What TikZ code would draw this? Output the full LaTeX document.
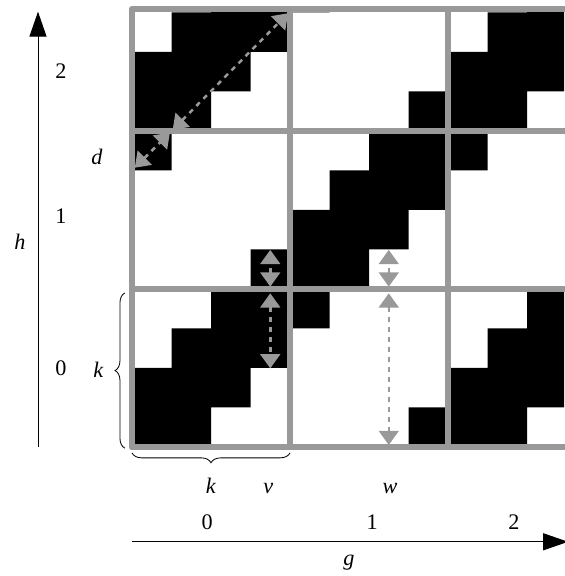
\documentclass[tikz,border=0pt]{standalone}
\usepackage{fontspec}
\setmainfont{Liberation Serif}
\usetikzlibrary{arrows.meta, decorations.pathreplacing}
\definecolor{gridgray}{RGB}{153,153,153}

\begin{document}
\begin{tikzpicture}[
		gridline/.style={gridgray, line width=4.3pt, line cap=round},
		dimarrow/.style={{Triangle[length=3.6mm, width=5mm]}-{Triangle[length=3.6mm, width=5mm]}, gridgray, line width=1.8pt, dash pattern=on 3.6pt off 3.6pt},
		axis/.style={-{Triangle[length=6.3mm, width=4.3mm]}, black, line width=0.7pt},
		bracket/.style={decorate, decoration={brace, amplitude=2.5mm}, black, line width=0.6pt},
		lbl/.style={font=\fontsize{16}{19}\selectfont, inner sep=0pt, anchor=base}
	]
	\useasboundingbox (-3.342, -3.266) rectangle (10.937, 11.316);

	\begin{scope}
		\clip (0, 0) rectangle (10.937, 11.08);
		\foreach \x/\y in {0/0, 4/4, 8/0, 0/8, 8/8}
			\fill[black]	(\x, \y) -- ++(2, 0) -- ++(0, 1) -- ++(1, 0) -- ++(0, 1) -- ++(1, 0) -- ++(0, 2)
							-- ++(-2, 0) -- ++(0, -1) -- ++(-1, 0) -- ++(0, -1) -- ++(-1, 0) -- cycle;
		\foreach \x/\y in {4/0, 0/4, 8/4, 4/8}
			\fill[black]	(\x, \y+3) rectangle ++(1, 1)
							(\x+3, \y) rectangle ++(1, 1);
	\end{scope}

	\foreach \x in {0, 4, 8}
		\draw[gridline]	(\x, 0) -- (\x, 11.08);
	\foreach \y in {0, 4, 8, 11.08}
		\draw[gridline]	(0, \y) -- (11.2, \y);

	% dimension arrows
	\coordinate (diagA) at (1.03, 8.03);
	\coordinate (diagB) at (3.95, 10.98);
	\coordinate (dA) at (0.07, 7.07);
	\coordinate (dB) at (0.96, 7.96);
	\coordinate (vA) at (3.5, 4.06);
	\coordinate (vB) at (3.5, 4.99);
	\coordinate (vC) at (3.5, 3.89);
	\coordinate (vD) at (3.5, 1.99);
	\coordinate (wA) at (6.5, 4.06);
	\coordinate (wB) at (6.5, 4.99);
	\coordinate (wC) at (6.5, 3.89);
	\coordinate (wD) at (6.5, 0.05);

	\draw[dimarrow]	(diagA) -- (diagB);
	\draw[dimarrow]	(dA) -- (dB);
	\draw[dimarrow]	(vA) -- (vB);
	\draw[dimarrow]	(vC) -- (vD);
	\draw[dimarrow]	(wA) -- (wB);
	\draw[dimarrow]	(wC) -- (wD);

	% braces
	\draw[bracket]	(-0.18, -0.03) -- (-0.18, 3.9);
	\draw[bracket]	(4, -0.15) -- (0, -0.15);

	% axes
	\coordinate (hstart) at (-2.38, 0);
	\coordinate (hend) at (-2.38, 11.02);
	\coordinate (gstart) at (0, -2.40);
	\coordinate (gend) at (11.04, -2.40);
	\draw[axis]	(hstart) -- (hend);
	\draw[axis]	(gstart) -- (gend);

	\node[lbl] (hzero) at (-1.80, 1.80) {0};
	\node[lbl] (hone) at (-1.80, 5.67) {1};
	\node[lbl] (htwo) at (-1.80, 9.34) {2};
	\node[lbl] (hname) at (-2.84, 4.99) {\textit{h}};
	\node[lbl] (dname) at (-0.89, 7.14) {\textit{d}};
	\node[lbl] (kleft) at (-0.85, 1.75) {\textit{k}};
	\node[lbl] (kbottom) at (2.0, -1.165) {\textit{k}};
	\node[lbl] (vname) at (3.45, -1.165) {\textit{v}};
	\node[lbl] (wname) at (6.53, -1.165) {\textit{w}};
	\node[lbl] (gzero) at (1.90, -2.08) {0};
	\node[lbl] (gone) at (6.08, -2.08) {1};
	\node[lbl] (gtwo) at (9.67, -2.08) {2};
	\node[lbl] (gname) at (5.49, -2.99) {\textit{g}};
\end{tikzpicture}
\end{document}
